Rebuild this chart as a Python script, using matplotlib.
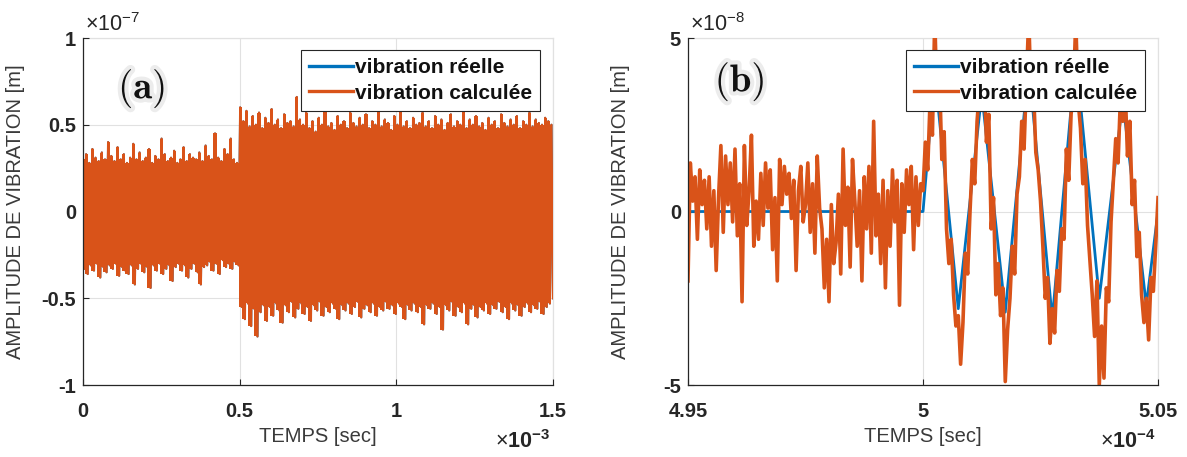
import numpy as np
import matplotlib
matplotlib.use("Agg")
import matplotlib.pyplot as plt
import matplotlib.patheffects as pe

plt.rcParams['font.family'] = ['Liberation Sans', 'DejaVu Sans']
plt.rcParams['mathtext.fontset'] = 'custom'
plt.rcParams['mathtext.rm'] = 'Liberation Sans'
plt.rcParams['mathtext.bf'] = 'Liberation Sans:bold'
plt.rcParams['path.simplify'] = False

BLUE = '#0072BD'
ORANGE = '#D95319'

# ---------------- Panel (a) data (time in 1e-3 s, amplitude in 1e-7 m) ----------------
xlim_a = (0.0, 1.5)
ylim_a = (-1.0, 1.0)
xticks_a = [0, 0.5, 1, 1.5]
xticklabels_a = ['0', '0.5', '1', '1.5']
yticks_a = [-1, -0.5, 0, 0.5, 1]
yticklabels_a = ['-1', '-0.5', '0', '0.5', '1']

# successive positive peaks of the calculated vibration (before / after 0.5e-3 s)
peaks_up_a = [
    0.30, 0.33, 0.28, 0.36, 0.31, 0.29, 0.34, 0.30, 0.40, 0.32,
    0.29, 0.37, 0.30, 0.33, 0.28, 0.31, 0.39, 0.30, 0.34, 0.29,
    0.31, 0.36, 0.28, 0.32, 0.30, 0.42, 0.33, 0.29, 0.31, 0.35,
    0.28, 0.30, 0.37, 0.29, 0.33, 0.31, 0.30, 0.34, 0.29, 0.38,
    0.32, 0.30, 0.45, 0.31, 0.29, 0.36, 0.33, 0.42, 0.30, 0.28,
    0.60, 0.52, 0.58, 0.49, 0.55, 0.50, 0.57, 0.48, 0.54, 0.51,
    0.59, 0.50, 0.53, 0.48, 0.56, 0.51, 0.52, 0.49, 0.66, 0.53,
    0.50, 0.57, 0.48, 0.52, 0.46, 0.54, 0.50, 0.58, 0.49, 0.51,
    0.47, 0.55, 0.50, 0.52, 0.48, 0.57, 0.51, 0.49, 0.54, 0.50,
    0.56, 0.48, 0.52, 0.50, 0.59, 0.49, 0.53, 0.51, 0.47, 0.55,
    0.50, 0.58, 0.49, 0.52, 0.48, 0.54, 0.50, 0.51, 0.57, 0.49,
    0.52, 0.48, 0.55, 0.50, 0.53, 0.47, 0.51, 0.56, 0.49, 0.52,
    0.50, 0.58, 0.48, 0.53, 0.50, 0.55, 0.49, 0.51, 0.47, 0.54,
    0.50, 0.52, 0.48, 0.56, 0.51, 0.49, 0.53, 0.50, 0.55, 0.48,
    0.52, 0.50, 0.57, 0.49, 0.53, 0.51, 0.50, 0.54, 0.52, 0.50,
]
# successive negative peaks
peaks_down_a = [
    -0.33, -0.36, -0.31, -0.34, -0.30, -0.38, -0.32, -0.35, -0.31, -0.33,
    -0.30, -0.37, -0.32, -0.34, -0.36, -0.31, -0.42, -0.33, -0.30, -0.35,
    -0.32, -0.44, -0.31, -0.34, -0.30, -0.36, -0.33, -0.31, -0.40, -0.32,
    -0.30, -0.34, -0.31, -0.38, -0.33, -0.30, -0.35, -0.42, -0.32, -0.31,
    -0.29, -0.34, -0.30, -0.36, -0.28, -0.32, -0.30, -0.33, -0.29, -0.31,
    -0.55, -0.62, -0.53, -0.66, -0.56, -0.72, -0.58, -0.54, -0.63, -0.55,
    -0.60, -0.53, -0.57, -0.64, -0.54, -0.58, -0.52, -0.61, -0.56, -0.53,
    -0.59, -0.55, -0.63, -0.54, -0.57, -0.52, -0.60, -0.55, -0.58, -0.53,
    -0.56, -0.62, -0.54, -0.57, -0.53, -0.59, -0.55, -0.52, -0.61, -0.56,
    -0.54, -0.58, -0.53, -0.60, -0.55, -0.57, -0.52, -0.56, -0.54, -0.59,
    -0.53, -0.55, -0.62, -0.54, -0.57, -0.53, -0.58, -0.55, -0.65, -0.54,
    -0.56, -0.53, -0.59, -0.55, -0.68, -0.54, -0.57, -0.52, -0.60, -0.55,
    -0.58, -0.53, -0.65, -0.56, -0.54, -0.61, -0.55, -0.57, -0.53, -0.59,
    -0.54, -0.56, -0.52, -0.58, -0.55, -0.62, -0.53, -0.57, -0.54, -0.60,
    -0.55, -0.53, -0.58, -0.54, -0.56, -0.52, -0.59, -0.55, -0.53, -0.50,
]

# ---------------- Panel (b) data (time in 1e-4 s, amplitude in 1e-8 m) ----------------
xlim_b = (4.95, 5.05)
ylim_b = (-5.0, 5.0)
xticks_b = [4.95, 5.0, 5.05]
xticklabels_b = ['4.95', '5', '5.05']
yticks_b = [-5, 0, 5]
yticklabels_b = ['-5', '0', '5']

# real vibration: zero before 5e-4 s, then oscillation (turning points)
t_real_b = [4.95, 5.0, 5.0025, 5.0075, 5.0125, 5.0175, 5.0225, 5.0275,
            5.0325, 5.0375, 5.0425, 5.0475, 5.05]
y_real_b = [0.0, 0.0, 4.0, -2.8, 3.4, -2.9, 4.2, -3.1,
            4.5, -2.5, 3.2, -2.7, 0.0]

# calculated vibration before 5e-4 s (noise only)
y_calc_b_before = [
    -2.0, 1.4, 0.3, 1.0, -0.8, 1.2, 0.2, 0.9, -0.5, 1.0,
    -1.0, 0.6, -1.7, 0.4, 1.9, -0.6, 1.6, 0.2, 1.4, -0.3,
    1.8, -0.7, 0.8, -2.6, 1.9, -0.4, 0.6, 2.2, -1.0, 0.3,
    -0.8, 1.1, -0.4, 1.4, 0.1, 1.2, -1.1, 0.4, -2.0, 1.5,
    0.2, 1.3, 0.5, 1.1, -0.2, 0.9, -1.7, 0.6, 1.3, -0.3,
    0.2, 1.4, -0.6, 0.8, -1.2, 1.6, 0.1, -0.5, -2.2, -0.8,
    -2.6, 0.2, -1.5, -0.9, 0.5, -1.8, 1.8, -0.4, 0.7, -1.6,
    1.5, 0.3, -1.0, 0.6, -2.0, 1.0, -0.5, 1.3, -1.2, 2.6,
    -0.7, 0.5, -1.5, 0.9, -2.2, 0.6, -1.0, 1.2, -0.3, 0.9,
    -2.7, 0.8, -0.6, 1.2, 0.2, 1.3, -1.1, 1.0, -0.4, 0.8,
]
# calculated vibration from 5e-4 s to 5.05e-4 s
y_calc_b_after = [
    0.6, 2.0, 1.2, 3.2, 2.2, 5.6, 3.0, 4.0, 1.5, 2.3,
    -0.5, -1.5, -0.8, -2.4, -3.3, -3.0, -4.4, -3.2, -1.2, -1.8,
    0.0, 1.5, 0.8, 2.6, 3.5, 3.0, 3.9, 2.0, 2.8, -0.5,
    0.4, -2.4, -1.5, -3.0, -2.2, -4.9, -3.4, -2.5, -1.0, -1.8,
    0.5, 1.0, 2.6, 1.8, 3.8, 5.6, 3.2, 3.6, 1.7, 1.2,
    0.3, -1.0, -2.5, -1.9, -3.8, -2.8, -3.5, -1.7, -2.3, -0.5,
    -0.8, 1.8, 0.9, 2.8, 3.5, 5.5, 3.2, 2.4, 0.8, 1.5,
    -0.4, -1.4, -2.4, -3.6, -2.0, -5.0, -3.3, -4.8, -2.2, -2.6,
    -0.3, 0.9, 2.1, 1.4, 3.3, 2.6, 3.6, 1.6, 2.6, 0.2,
    0.9, -1.3, -0.6, -2.4, -3.2, -2.5, -3.7, -1.9, -2.3, -1.0,
    0.4,
]

legend_labels = ['vibration réelle', 'vibration calculée']
xlabel_text = 'TEMPS [sec]'
ylabel_text = 'AMPLITUDE DE VIBRATION [m]'

# ---------------- Build series ----------------
n_a = len(peaks_up_a)
y_calc_a = np.empty(2 * n_a)
y_calc_a[0::2] = peaks_up_a
y_calc_a[1::2] = peaks_down_a
t_a = np.linspace(xlim_a[0], xlim_a[1], 2 * n_a)
t_peaks_a = t_a[0::2]

t_b_before = np.linspace(4.95, 5.0, len(y_calc_b_before), endpoint=False)
t_b_after = np.linspace(5.0, 5.05, len(y_calc_b_after))
t_calc_b = np.concatenate([t_b_before, t_b_after])
y_calc_b = np.concatenate([y_calc_b_before, y_calc_b_after])

# ---------------- Figure ----------------
fig = plt.figure(figsize=(11.87, 4.57), dpi=100)
ax_a = fig.add_axes([0.0699, 0.1575, 0.396, 0.7593])
ax_b = fig.add_axes([0.5796, 0.1575, 0.396, 0.7593])

DARK = '#262626'

def style(ax, xlim, ylim, xt, xtl, yt, ytl, exp_y, exp_x, tag, handles):
    ax.set_xlim(*xlim)
    ax.set_ylim(*ylim)
    ax.set_xticks(xt)
    ax.set_xticklabels(xtl)
    ax.set_yticks(yt)
    ax.set_yticklabels(ytl)
    for s in ['top', 'right']:
        ax.spines[s].set_visible(False)
    for s in ['left', 'bottom']:
        ax.spines[s].set_color(DARK)
        ax.spines[s].set_linewidth(0.9)
    ax.grid(True, color='#e1e1e1', linewidth=0.8)
    ax.set_axisbelow(True)
    ax.axhline(ylim[1], color='#e1e1e1', linewidth=0.9, zorder=0.5, clip_on=False)
    ax.axvline(xlim[1], color='#e1e1e1', linewidth=0.9, zorder=0.5, clip_on=False)
    ax.tick_params(direction='in', length=4, width=0.8, color=DARK,
                   labelsize=14.5, labelcolor=DARK)
    ax.tick_params(axis='x', pad=12)
    ax.tick_params(axis='y', pad=5)
    for lab in ax.get_xticklabels() + ax.get_yticklabels():
        lab.set_fontweight('bold')
    ax.set_xlabel(xlabel_text, fontsize=14.5, color='#3a3a3a')
    ax.set_ylabel(ylabel_text, fontsize=14.5, color='#3a3a3a')
    ax.xaxis.set_label_coords(0.5, -0.122)
    ax.yaxis.set_label_coords(-0.123, 0.5)
    ax.text(0.005, 1.005, exp_y, transform=ax.transAxes, ha='left', va='bottom',
            fontsize=15.5, color=DARK)
    ax.text(0.995, -0.162, exp_x, transform=ax.transAxes, ha='right', va='center',
            fontsize=15.5, color=DARK)
    ax.text(tag[0], tag[1], tag[2], transform=ax.transAxes, ha='center', va='center',
            fontsize=28, color='#111111', math_fontfamily='cm', zorder=5,
            path_effects=[pe.withStroke(linewidth=6, foreground='#ececec')])
    leg = ax.legend(handles, legend_labels, loc='upper right', bbox_to_anchor=(0.972, 0.965),
                    borderaxespad=0, fancybox=False, framealpha=1, edgecolor=DARK,
                    prop={'size': 15, 'weight': 'bold'}, handlelength=2.1,
                    handletextpad=0.1, labelspacing=0.32, borderpad=0.38)
    leg.set_zorder(6)
    leg.get_frame().set_linewidth(0.8)
    for line in leg.get_lines():
        line.set_linewidth(2.4)
    for t in leg.get_texts():
        t.set_color('#111111')

# Panel (a): dense oscillation -> solid band between successive peaks
la1, = ax_a.plot(t_a, y_calc_a, color=BLUE, linewidth=1.5, zorder=1.5)
ax_a.fill_between(t_peaks_a, peaks_down_a, peaks_up_a, step='mid',
                  color=ORANGE, linewidth=0, zorder=2.1)
la2, = ax_a.plot(t_a, y_calc_a, color=ORANGE, linewidth=1.6, zorder=2.2)
style(ax_a, xlim_a, ylim_a, xticks_a, xticklabels_a, yticks_a, yticklabels_a,
      r'$\times\mathregular{10^{-7}}$', r'$\times\mathbf{10^{-3}}$',
      (0.125, 0.855, r'$\mathbf{(a)}$'), [la1, la2])

# Panel (b)
lb1, = ax_b.plot(t_real_b, y_real_b, color=BLUE, linewidth=2.0)
lb2, = ax_b.plot(t_calc_b, y_calc_b, color=ORANGE, linewidth=2.6)
style(ax_b, xlim_b, ylim_b, xticks_b, xticklabels_b, yticks_b, yticklabels_b,
      r'$\times\mathregular{10^{-8}}$', r'$\times\mathbf{10^{-4}}$',
      (0.11, 0.875, r'$\mathbf{(b)}$'), [lb1, lb2])

fig.savefig('out.png', dpi=100, facecolor='white')
